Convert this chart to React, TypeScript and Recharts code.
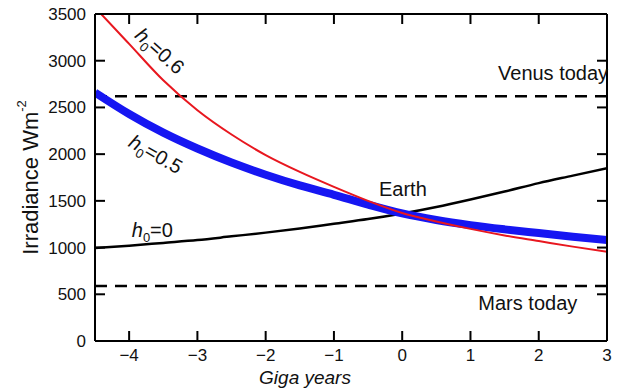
import {
  Line,
  LineChart,
  ReferenceDot,
  ReferenceLine,
  XAxis,
  YAxis,
} from "recharts";

// Giga years relative to today
const years = [-4.5, -4, -3.5, -3, -2.5, -2, -1.5, -1, -0.5, 0, 0.5, 1, 1.5, 2, 2.5, 3];
// h0 = 0.6 (red)
const h06 = [3570, 3180, 2790, 2470, 2210, 1990, 1810, 1650, 1500, 1370, 1280, 1200, 1130, 1070, 1010, 955];
// h0 = 0.5 (thick blue)
const h05 = [2660, 2430, 2230, 2060, 1910, 1780, 1665, 1565, 1460, 1365, 1295, 1240, 1195, 1155, 1115, 1080];
// h0 = 0 (black)
const h00 = [995, 1020, 1050, 1080, 1120, 1160, 1205, 1255, 1305, 1365, 1435, 1515, 1600, 1690, 1770, 1850];

const venusToday = 2620;
const marsToday = 590;

const xTicks = [-4, -3, -2, -1, 0, 1, 2, 3];
const yTicks = [0, 500, 1000, 1500, 2000, 2500, 3000, 3500];

const data = years.map((y, i) => ({ year: y, h06: h06[i], h05: h05[i], h00: h00[i] }));

const FONT = "'Liberation Sans', Arial, sans-serif";
const tickLine = { stroke: "#000", strokeWidth: 2 };
const axisLine = { stroke: "#000", strokeWidth: 2 };

function BottomTick({ x, y, payload }: any) {
  return (
    <text x={x} y={y + 20} textAnchor="middle" fontSize={17} fontFamily={FONT} fill="#111">
      {payload.value < 0 ? `\u2212${Math.abs(payload.value)}` : payload.value}
    </text>
  );
}

function LeftTick({ x, y, payload }: any) {
  return (
    <text x={x - 9} y={y + 6} textAnchor="end" fontSize={17} fontFamily={FONT} fill="#111">
      {payload.value}
    </text>
  );
}

function NoLabel() {
  return <g />;
}

function YLabel({ viewBox }: any) {
  const cx = viewBox.x + 30;
  const cy = viewBox.y + viewBox.height / 2;
  return (
    <text
      x={cx}
      y={cy}
      transform={`rotate(-90 ${cx} ${cy})`}
      textAnchor="middle"
      dominantBaseline="central"
      fontSize={22}
      fontFamily={FONT}
      fill="#111"
    >
      Irradiance Wm<tspan fontSize={13} dy={-9}>-2</tspan>
    </text>
  );
}

function XLabel({ viewBox }: any) {
  return (
    <text
      x={viewBox.x + 210}
      y={viewBox.y + 43}
      textAnchor="middle"
      fontSize={19}
      fontStyle="italic"
      fontFamily={FONT}
      fill="#111"
    >
      Giga years
    </text>
  );
}

// h0 label, optionally rotated along its curve
function hLabel(value: string, angle: number) {
  return ({ cx, cy }: any) => (
    <text
      x={cx}
      y={cy + 7}
      transform={`rotate(${angle} ${cx} ${cy})`}
      textAnchor="middle"
      fontSize={20}
      fontFamily={FONT}
      fill="#111"
    >
      <tspan fontStyle="italic">h</tspan>
      <tspan fontSize={13} dy={5}>0</tspan>
      <tspan dy={-5}>={value}</tspan>
    </text>
  );
}

function plainLabel(value: string) {
  return ({ cx, cy }: any) => (
    <text x={cx} y={cy + 7} textAnchor="middle" fontSize={20} fontFamily={FONT} fill="#111">
      {value}
    </text>
  );
}

export default function App() {
  return (
    <div style={{ position: "absolute", left: 0, top: 0, background: "#fff" }}>
      <LineChart width={637} height={389} data={data} margin={{ top: 0, right: 0, bottom: 0, left: 0 }}>
        <XAxis
          dataKey="year"
          type="number"
          domain={[-4.5, 3]}
          ticks={xTicks}
          height={48}
          tickSize={-10}
          tickMargin={10}
          tickLine={tickLine}
          tick={<BottomTick />}
          axisLine={axisLine}
          allowDataOverflow
          label={<XLabel />}
        />
        <XAxis
          xAxisId="top"
          orientation="top"
          dataKey="year"
          type="number"
          domain={[-4.5, 3]}
          ticks={xTicks}
          height={14}
          tickSize={-10}
          tickMargin={0}
          tickLine={tickLine}
          tick={<NoLabel />}
          axisLine={axisLine}
          allowDataOverflow
        />
        <YAxis
          domain={[0, 3500]}
          ticks={yTicks}
          width={95}
          tickSize={-10}
          tickMargin={10}
          tickLine={tickLine}
          tick={<LeftTick />}
          axisLine={axisLine}
          allowDataOverflow
          label={<YLabel />}
        />
        <YAxis
          yAxisId="right"
          orientation="right"
          domain={[0, 3500]}
          ticks={yTicks}
          width={30}
          tickSize={-10}
          tickMargin={0}
          tickLine={tickLine}
          tick={<NoLabel />}
          axisLine={axisLine}
          allowDataOverflow
        />
        <ReferenceLine y={venusToday} stroke="#000" strokeWidth={2.5} strokeDasharray="12 8" />
        <ReferenceLine y={marsToday} stroke="#000" strokeWidth={2.5} strokeDasharray="12 8" />
        <Line type="monotone" dataKey="h00" stroke="#000" strokeWidth={2.5} dot={false} isAnimationActive={false} />
        <Line type="monotone" dataKey="h05" stroke="#1616f2" strokeWidth={8} dot={false} isAnimationActive={false} />
        <Line type="monotone" dataKey="h06" stroke="#e8171f" strokeWidth={2} dot={false} isAnimationActive={false} />
        <ReferenceDot x={-3.55} y={3105} r={0} shape={hLabel("0.6", 42)} />
        <ReferenceDot x={-3.61} y={2000} r={0} shape={hLabel("0.5", 30)} />
        <ReferenceDot x={-3.66} y={1190} r={0} shape={hLabel("0", 0)} />
        <ReferenceDot x={0.01} y={1627} r={0} shape={plainLabel("Earth")} />
        <ReferenceDot x={2.21} y={2869} r={0} shape={plainLabel("Venus today")} />
        <ReferenceDot x={1.84} y={407} r={0} shape={plainLabel("Mars today")} />
      </LineChart>
    </div>
  );
}
